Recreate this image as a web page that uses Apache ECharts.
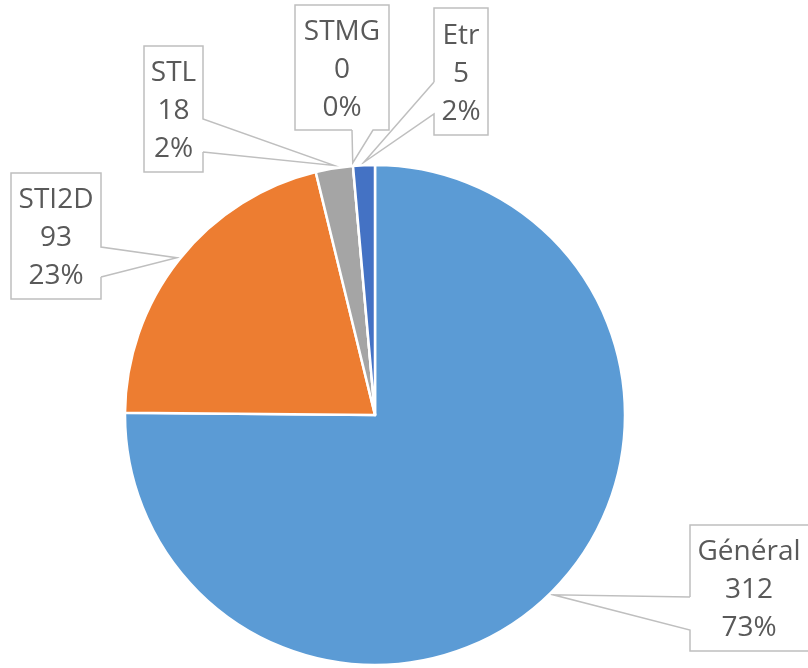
<!DOCTYPE html>
<html><head><meta charset="utf-8">
<script src="https://cdn.jsdelivr.net/npm/echarts@6/dist/echarts.min.js"></script>
<style>html,body{margin:0;padding:0;background:#fff}#chart{width:808px;height:668px}</style>
</head><body><div id="chart"></div>
<script>
// ---- data ----
const categories = ['Général', 'STI2D', 'STL', 'STMG', 'Etr'];
const counts = [312, 93, 18, 0, 5];
const percentLabels = ['73%', '23%', '2%', '0%', '2%'];
// share of the circle each slice covers
const sliceShares = [75.0, 21.0, 2.4, 0, 1.4];
const colors = ['#5B9BD5', '#ED7D31', '#A5A5A5', '#FFC000', '#4472C4'];

// ---- layout of the callout boxes: left, top, width, height, pointer side, pointer base offsets ----
const PIE_CENTER = [375, 415];
const PIE_RADIUS = 250;
const callouts = [
  { box: [690, 525, 122, 126], textX: 749, side: 'left',   b: [72, 105] },
  { box: [11, 173, 90, 126],   side: 'right',  b: [74, 104] },
  { box: [144, 46, 59, 126],   side: 'right',  b: [73, 106] },
  { box: [295, 5, 94, 125],    side: 'bottom', b: [57, 78] },
  { box: [434, 8, 54, 127],    side: 'left',   b: [74, 106] }
];

function ownAnchor(i) {
  const total = sliceShares.reduce((a, v) => a + v, 0);
  let before = 0;
  for (let k = 0; k < i; k++) before += sliceShares[k];
  const mid = (before + sliceShares[i] / 2) / total * 2 * Math.PI;
  const r = PIE_RADIUS + 3;
  return [PIE_CENTER[0] + r * Math.sin(mid), PIE_CENTER[1] - r * Math.cos(mid)];
}

const chart = echarts.init(document.getElementById('chart'), null, { renderer: 'canvas' });
chart.setOption({
  backgroundColor: '#ffffff',
  animation: false,
  series: [{
    type: 'pie',
    center: PIE_CENTER,
    radius: PIE_RADIUS,
    startAngle: 90,
    clockwise: true,
    avoidLabelOverlap: false,
    minShowLabelAngle: 0,
    silent: true,
    data: categories.map((c, i) => ({ name: c, value: sliceShares[i], itemStyle: { color: colors[i] } })),
    itemStyle: { borderColor: '#ffffff', borderWidth: 2.5 },
    label: {
      show: true,
      position: 'outside',
      formatter: p => categories[p.dataIndex] + '\n' + counts[p.dataIndex] + '\n' + percentLabels[p.dataIndex],
      fontFamily: 'Open Sans',
      fontSize: 28,
      lineHeight: 38,
      color: '#595959',
      align: 'center'
    },
    labelLine: { show: true, length: 10, length2: 10, smooth: false, lineStyle: { color: '#BFBFBF', width: 1.5 } },
    labelLayout: function (params) {
      const i = params.dataIndex;
      const c = callouts[i];
      const [L, T, W, H] = c.box;
      const R = L + W, B = T + H;
      const a = ownAnchor(i);
      let pts;
      if (c.side === 'left') {
        pts = [[L, T + c.b[0]], [L, T], [R, T], [R, B], [L, B], [L, T + c.b[1]], a, [L, T + c.b[0]]];
      } else if (c.side === 'right') {
        pts = [[R, T + c.b[1]], [R, B], [L, B], [L, T], [R, T], [R, T + c.b[0]], a, [R, T + c.b[1]]];
      } else {
        pts = [[L + c.b[0], B], [L, B], [L, T], [R, T], [R, B], [L + c.b[1], B], a, [L + c.b[0], B]];
      }
      return {
        x: c.textX != null ? c.textX : L + W / 2,
        y: T + H / 2 + 2.5,
        align: 'center',
        verticalAlign: 'middle',
        labelLinePoints: pts
      };
    }
  }]
});
</script>
</body></html>
